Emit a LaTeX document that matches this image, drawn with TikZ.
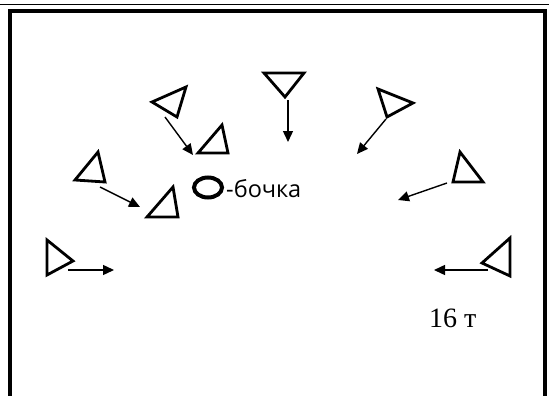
\documentclass[tikz,border=0pt]{standalone}
\usepackage{fontspec}
\setmainfont{Liberation Serif}
\newfontfamily\labelfont{Open Sans}
\usepackage{tikz}
\usetikzlibrary{arrows.meta}

\begin{document}
\begin{tikzpicture}[x=1pt,y=-1pt,
		cone/.style={line width=2.8pt,line join=miter},
		run/.style={line width=1.4pt,-{Triangle[length=11pt,width=10pt]}}]
		\useasboundingbox (0,0) rectangle (549,396);
		% frame
		\draw [line width=1.3pt] (0,4.5) -- (549,4.5);
		\draw [line width=4pt] (10,400) -- (10,11) -- (545,11) -- (545,400);
		% barrel
		\draw [line width=4pt] (208,187.5) ellipse [x radius=14,y radius=10];
		\node (barrel) [anchor=base west,inner sep=0pt,font=\labelfont\fontsize{23.5}{26}\selectfont]
			at (226,197) {-бочка};
		% cones, upper row
		\draw [cone] (152,102) -- (186,87)  -- (177,117) -- cycle;
		\draw [cone] (198,153) -- (222,125) -- (228,153) -- cycle;
		\draw [cone] (264,73)  -- (304,73)  -- (285,97)  -- cycle;
		\draw [cone] (378,89)  -- (413,103) -- (387,117) -- cycle;
		% cones, middle row
		\draw [cone] (75,180)  -- (98,152)  -- (105,182) -- cycle;
		\draw [cone] (147,217) -- (173,187) -- (178,217) -- cycle;
		\draw [cone] (453,182) -- (460,152) -- (483,182) -- cycle;
		% cones, lower row
		\draw [cone] (47,240)  -- (73,261)  -- (47,275)  -- cycle;
		\draw [cone] (482,263) -- (510,238) -- (510,276) -- cycle;
		% runs
		\coordinate (p1) at (165,117); \coordinate (q1) at (193,155);
		\coordinate (p2) at (100,187); \coordinate (q2) at (140,207);
		\coordinate (p3) at (288,100); \coordinate (q3) at (288,142);
		\coordinate (p4) at (386,119); \coordinate (q4) at (357,154);
		\coordinate (p5) at (447,183); \coordinate (q5) at (398,200);
		\coordinate (p6) at (68,270);  \coordinate (q6) at (114,270);
		\coordinate (p7) at (488,270); \coordinate (q7) at (434,270);
		\foreach \i in {1,...,7}
			\draw [run] (p\i) -- (q\i);
		% distance
		\node (dist) [anchor=base west,inner sep=0pt,font=\fontsize{28}{30}\selectfont]
			at (429,327) {16 т};
	\end{tikzpicture}
\end{document}
